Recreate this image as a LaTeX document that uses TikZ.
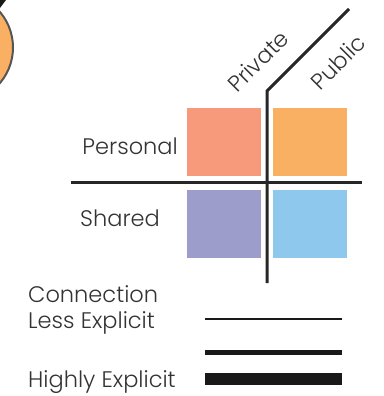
\documentclass[tikz,border=0pt]{standalone}
\usepackage{fontspec}
\setmainfont{Poppins}[UprightFont=* Light]
\usetikzlibrary{positioning}
\definecolor{txtgray}{HTML}{333333}
\definecolor{persPriv}{HTML}{F7997B}
\definecolor{persPub}{HTML}{F9B062}
\definecolor{shPriv}{HTML}{9C9DCB}
\definecolor{shPub}{HTML}{8EC8EC}
\definecolor{rimgray}{HTML}{555555}
\begin{document}
\begin{tikzpicture}
        [x=1pt, y=-1pt,
        label/.style={text=txtgray, font=\fontsize{22.5}{24}\selectfont, inner sep=0pt},
        quad/.style={minimum width=74pt, minimum height=68pt, inner sep=0pt},
        axis/.style={draw=black!85, line width=3pt},
        legend/.style={draw=black!90}]
        \useasboundingbox (0,0) rectangle (383,396);
        % partial disc in the corner
        \node [circle, fill=persPub, draw=rimgray, line width=2pt,
               minimum size=110pt, inner sep=0pt] (disc) at (-42,47.5) {};
        \fill [black!90] (0,0) -- (6,0) -- (0,8) -- cycle;
        % quadrants
        \node [quad, fill=persPriv] (pp) at (224,142) {};
        \node [quad, fill=persPub] (pu) at (310,142) {};
        \node [quad, fill=shPriv] (sp) at (224,224) {};
        \node [quad, fill=shPub] (su) at (310,224) {};
        % axes
        \coordinate (vtop) at (267,91);
        \coordinate (vbot) at (267,283);
        \coordinate (dtip) at (349,9);
        \coordinate (hl) at (71,182);
        \coordinate (hr) at (362,182);
        \draw [axis] (dtip) -- (vtop) -- (vbot);
        \draw [axis] (hl) -- (hr);
        \node [label, rotate=45] (private) at (258,61) {Private};
        \node [label, rotate=45] (public) at (338,62) {Public};
        \node [label, anchor=east] (personal) at (178,146) {Personal};
        \node [label, anchor=west] (shared) at (80,218) {Shared};
        % legend
        \node [label, anchor=west] (conn) at (28,294) {Connection};
        \node [label, anchor=west] (less) at (28,323) {Less Explicit};
        \node [label, anchor=west] (high) at (28,382) {Highly Explicit};
        \coordinate (l1a) at (205,319);
        \coordinate (l1b) at (342,319);
        \coordinate (l2a) at (205,352);
        \coordinate (l2b) at (342,352);
        \coordinate (l3a) at (205,379);
        \coordinate (l3b) at (342,379);
        \draw [legend, line width=2pt] (l1a) -- (l1b);
        \draw [legend, line width=5pt] (l2a) -- (l2b);
        \draw [legend, line width=12pt] (l3a) -- (l3b);
\end{tikzpicture}
\end{document}
